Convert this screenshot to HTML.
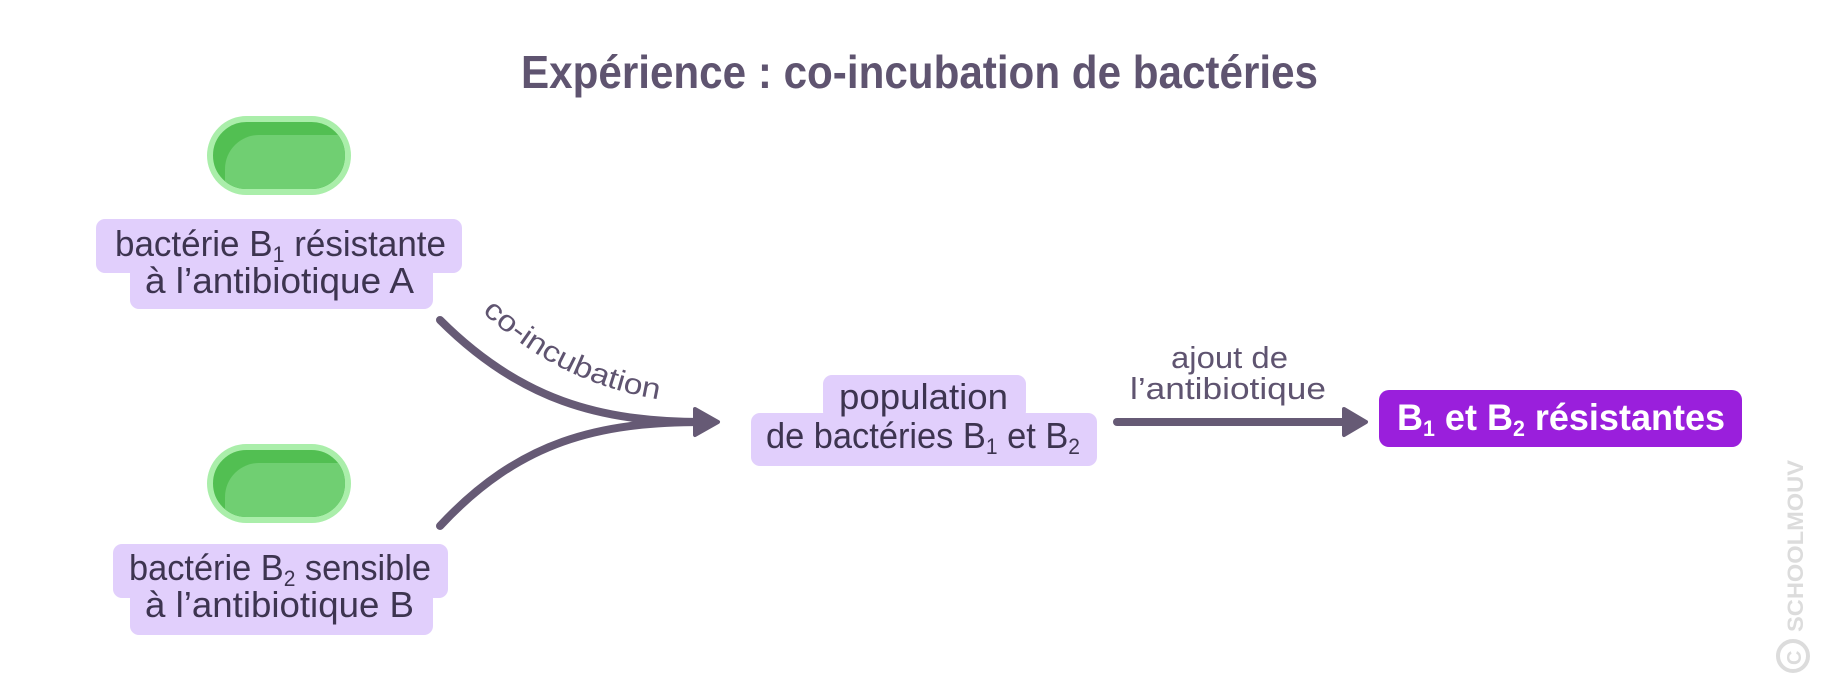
<!DOCTYPE html>
<html><head><meta charset="utf-8"><style>
html,body{margin:0;padding:0;background:#fff;}
svg{display:block;}
text{font-family:"Liberation Sans",sans-serif;}
</style></head><body>
<svg width="1840" height="699" viewBox="0 0 1840 699" xmlns="http://www.w3.org/2000/svg">
<defs>
<clipPath id="c1"><rect x="213" y="122" width="132" height="67" rx="33.5"/></clipPath>
<clipPath id="c2"><rect x="213" y="450" width="132" height="67" rx="33.5"/></clipPath>
<path id="lp" d="M482,312 C540,365 600,392 676,402"/>
</defs>
<text x="521" y="88" font-size="46" font-weight="bold" fill="#5f5470" textLength="797" lengthAdjust="spacingAndGlyphs">Expérience : co-incubation de bactéries</text>

<rect x="210" y="119" width="138" height="73" rx="36.5" fill="#52bf52" stroke="#aaeeaa" stroke-width="6"/>
<g clip-path="url(#c1)"><rect x="225" y="135" width="170" height="110" rx="34" fill="#70cf72"/></g>
<rect x="210" y="447" width="138" height="73" rx="36.5" fill="#52bf52" stroke="#aaeeaa" stroke-width="6"/>
<g clip-path="url(#c2)"><rect x="225" y="463" width="170" height="110" rx="34" fill="#70cf72"/></g>

<rect x="96" y="219" width="366" height="54" rx="9" fill="#e1cffc"/>
<rect x="130" y="262" width="303" height="47" rx="9" fill="#e1cffc"/>
<text x="115" y="256" font-size="36" fill="#3d3450" textLength="331" lengthAdjust="spacingAndGlyphs">bactérie B<tspan font-size="22" dy="6">1</tspan><tspan dy="-6"> résistante</tspan></text>
<text x="145" y="293" font-size="36" fill="#3d3450" textLength="269" lengthAdjust="spacingAndGlyphs">à l’antibiotique A</text>

<rect x="113" y="544" width="335" height="54" rx="9" fill="#e1cffc"/>
<rect x="130" y="588" width="303" height="47" rx="9" fill="#e1cffc"/>
<text x="129" y="580" font-size="36" fill="#3d3450" textLength="302" lengthAdjust="spacingAndGlyphs">bactérie B<tspan font-size="22" dy="6">2</tspan><tspan dy="-6"> sensible</tspan></text>
<text x="145" y="617" font-size="36" fill="#3d3450" textLength="269" lengthAdjust="spacingAndGlyphs">à l’antibiotique B</text>

<g fill="none" stroke="#665a75" stroke-width="8" stroke-linecap="round">
<path d="M440,320 C520,400 600,422 702,422"/>
<path d="M440,526 C520,440 600,422 702,422"/>
<path d="M1117,422 L1352,422"/>
</g>
<path d="M695,409 L718,422 L695,435 Z" fill="#665a75" stroke="#665a75" stroke-width="4" stroke-linejoin="round"/>
<path d="M1344,409 L1366,422 L1344,435 Z" fill="#665a75" stroke="#665a75" stroke-width="4" stroke-linejoin="round"/>
<text font-size="29" fill="#5f5470"><textPath href="#lp" textLength="200" lengthAdjust="spacingAndGlyphs">co-incubation</textPath></text>

<rect x="823" y="375" width="203" height="45" rx="9" fill="#e1cffc"/>
<rect x="751" y="413" width="346" height="53" rx="9" fill="#e1cffc"/>
<text x="839" y="409" font-size="36" fill="#3d3450" textLength="169" lengthAdjust="spacingAndGlyphs">population</text>
<text x="766" y="448" font-size="36" fill="#3d3450" textLength="314" lengthAdjust="spacingAndGlyphs">de bactéries B<tspan font-size="22" dy="6">1</tspan><tspan dy="-6"> et B</tspan><tspan font-size="22" dy="6">2</tspan></text>

<text x="1171" y="368" font-size="31" fill="#5f5470" textLength="117" lengthAdjust="spacingAndGlyphs">ajout de</text>
<text x="1130" y="399" font-size="31" fill="#5f5470" textLength="196" lengthAdjust="spacingAndGlyphs">l’antibiotique</text>

<rect x="1379" y="390" width="363" height="57" rx="10" fill="#9a1fdc"/>
<text x="1397" y="430" font-size="37" font-weight="bold" fill="#fff" textLength="328" lengthAdjust="spacingAndGlyphs">B<tspan font-size="22" dy="6">1</tspan><tspan dy="-6"> et B</tspan><tspan font-size="22" dy="6">2</tspan><tspan dy="-6"> résistantes</tspan></text>

<text transform="translate(1803,632) rotate(-90)" font-size="22" font-weight="bold" fill="#dcdcdc" textLength="172" lengthAdjust="spacingAndGlyphs">SCHOOLMOUV</text>
<circle cx="1793" cy="656" r="15" fill="none" stroke="#dcdcdc" stroke-width="4"/>
<text transform="translate(1801,665) rotate(-90)" font-size="20" font-weight="bold" fill="#dcdcdc">C</text>
</svg>
</body></html>
